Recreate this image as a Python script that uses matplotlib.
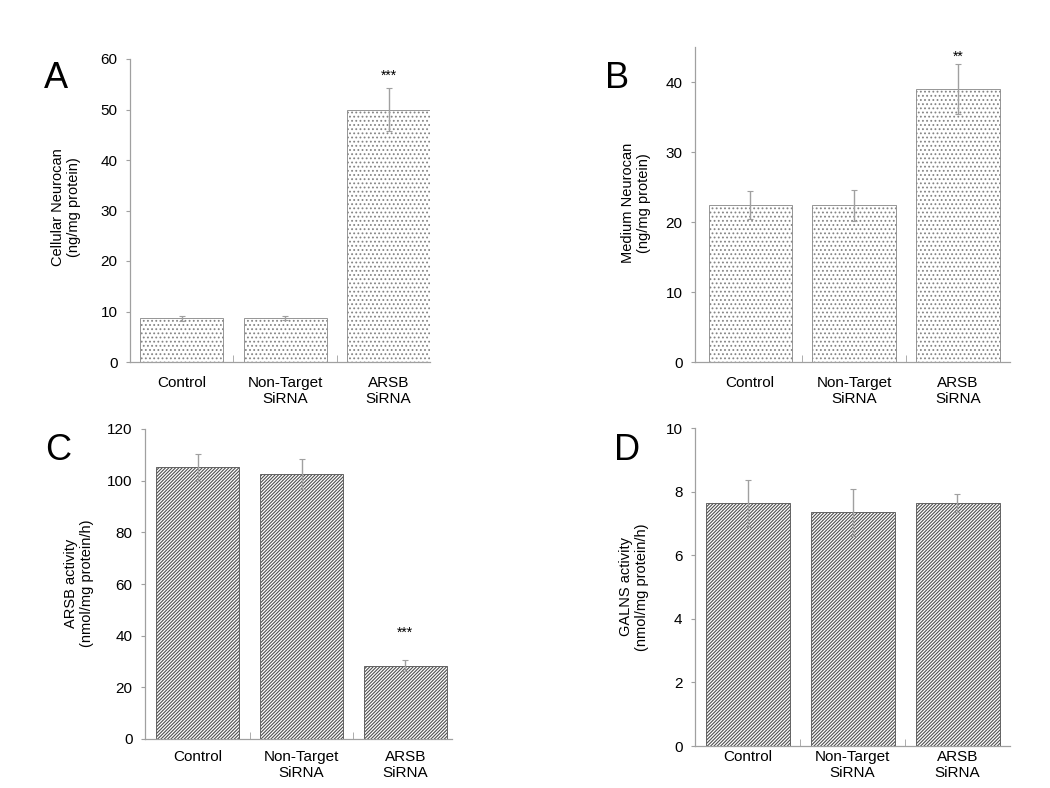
import numpy as np
import matplotlib

matplotlib.use("Agg")
import matplotlib.pyplot as plt

plt.rcParams["font.family"] = ["Liberation Sans", "DejaVu Sans"]
plt.rcParams["hatch.linewidth"] = 0.8

W, H = 1050, 788

groups = ["Control", "Non-Target\nSiRNA", "ARSB\nSiRNA"]

# panel data (mean, error)
cell_neurocan = [8.7, 8.7, 50.0]
cell_neurocan_err = [0.5, 0.4, 4.3]
med_neurocan = [22.4, 22.4, 39.0]
med_neurocan_err = [2.0, 2.2, 3.6]
arsb_act = [105.1, 102.4, 28.4]
arsb_act_err = [5.4, 5.8, 2.2]
galns_act = [7.63, 7.35, 7.64]
galns_act_err = [0.73, 0.74, 0.28]

# layout in pixels: axes rect (left, bottom, right, top), letter pos, ylabel centre
panels = [
    dict(letter="A", rect=(130, 362, 430, 59), vals=cell_neurocan, err=cell_neurocan_err,
         ylim=(0, 60), yticks=np.arange(0, 61, 10),
         ylabel="Cellular Neurocan\n(ng/mg protein)", stars="***", star_off=5,
         hatch="....", hcol="#858585", xlim=(-0.5, 2.4), letter_xy=(56, 79),
         ylab_xy=(66, 207), lab_pad=10),
    dict(letter="B", rect=(695, 362, 1010, 47), vals=med_neurocan, err=med_neurocan_err,
         ylim=(0, 45), yticks=np.arange(0, 41, 10),
         ylabel="Medium Neurocan\n(ng/mg protein)", stars="**", star_off=0,
         hatch="....", hcol="#858585", xlim=(-0.53, 2.5), letter_xy=(617, 79),
         ylab_xy=(636, 203), lab_pad=10),
    dict(letter="C", rect=(145, 739, 452, 429), vals=arsb_act, err=arsb_act_err,
         ylim=(0, 120), yticks=np.arange(0, 121, 20),
         ylabel="ARSB activity\n(nmol/mg protein/h)", stars="***", star_off=20,
         hatch="//////////", hcol="#505050", xlim=(-0.51, 2.45), letter_xy=(58, 450),
         ylab_xy=(79, 583), lab_pad=8),
    dict(letter="D", rect=(695, 746, 1010, 428), vals=galns_act, err=galns_act_err,
         ylim=(0, 10), yticks=np.arange(0, 11, 2),
         ylabel="GALNS activity\n(nmol/mg protein/h)", stars=None, star_off=0,
         hatch="//////////", hcol="#505050", xlim=(-0.5, 2.5), letter_xy=(627, 450),
         ylab_xy=(634, 587), lab_pad=3),
]

fig = plt.figure(figsize=(W / 100, H / 100), dpi=100)

x = np.arange(len(groups))
for p in panels:
    l, b, r, t = p["rect"]
    ax = fig.add_axes([l / W, 1 - b / H, (r - l) / W, (b - t) / H])
    ax.bar(x, p["vals"], width=0.8, color="white", edgecolor=p["hcol"],
           hatch=p["hatch"], linewidth=0.6, zorder=2)
    ax.errorbar(x, p["vals"], yerr=p["err"], fmt="none", ecolor="#a0a0a0",
                elinewidth=1.0, capsize=2, capthick=0.8, zorder=3)
    if p["stars"]:
        top = p["vals"][2] + p["err"][2]
        ax.annotate(p["stars"], (2, top), xytext=(0, p["star_off"] * 0.72),
                    textcoords="offset points", ha="center", va="bottom",
                    fontsize=10)
    ax.set_xlim(*p["xlim"])
    ax.set_ylim(*p["ylim"])
    ax.set_yticks(p["yticks"])
    ax.set_xticks(x)
    ax.set_xticklabels(groups, fontsize=11)
    ax.set_xticks([0.5, 1.5], minor=True)
    ax.tick_params(axis="x", which="major", length=0, pad=p["lab_pad"])
    ax.tick_params(axis="x", which="minor", length=5, direction="in", color="#a0a0a0")
    ax.tick_params(axis="y", length=3, direction="out", color="#a0a0a0",
                   labelsize=11, pad=6)
    for s in ("top", "right"):
        ax.spines[s].set_visible(False)
    for s in ("left", "bottom"):
        ax.spines[s].set_color("#a0a0a0")
        ax.spines[s].set_linewidth(0.9)
    fig.text(p["ylab_xy"][0] / W, 1 - p["ylab_xy"][1] / H, p["ylabel"],
             rotation=90, ha="center", va="center", multialignment="center",
             fontsize=10.5)
    fig.text(p["letter_xy"][0] / W, 1 - p["letter_xy"][1] / H, p["letter"],
             fontsize=26, ha="center", va="center")

fig.savefig("out.png", dpi=100)
